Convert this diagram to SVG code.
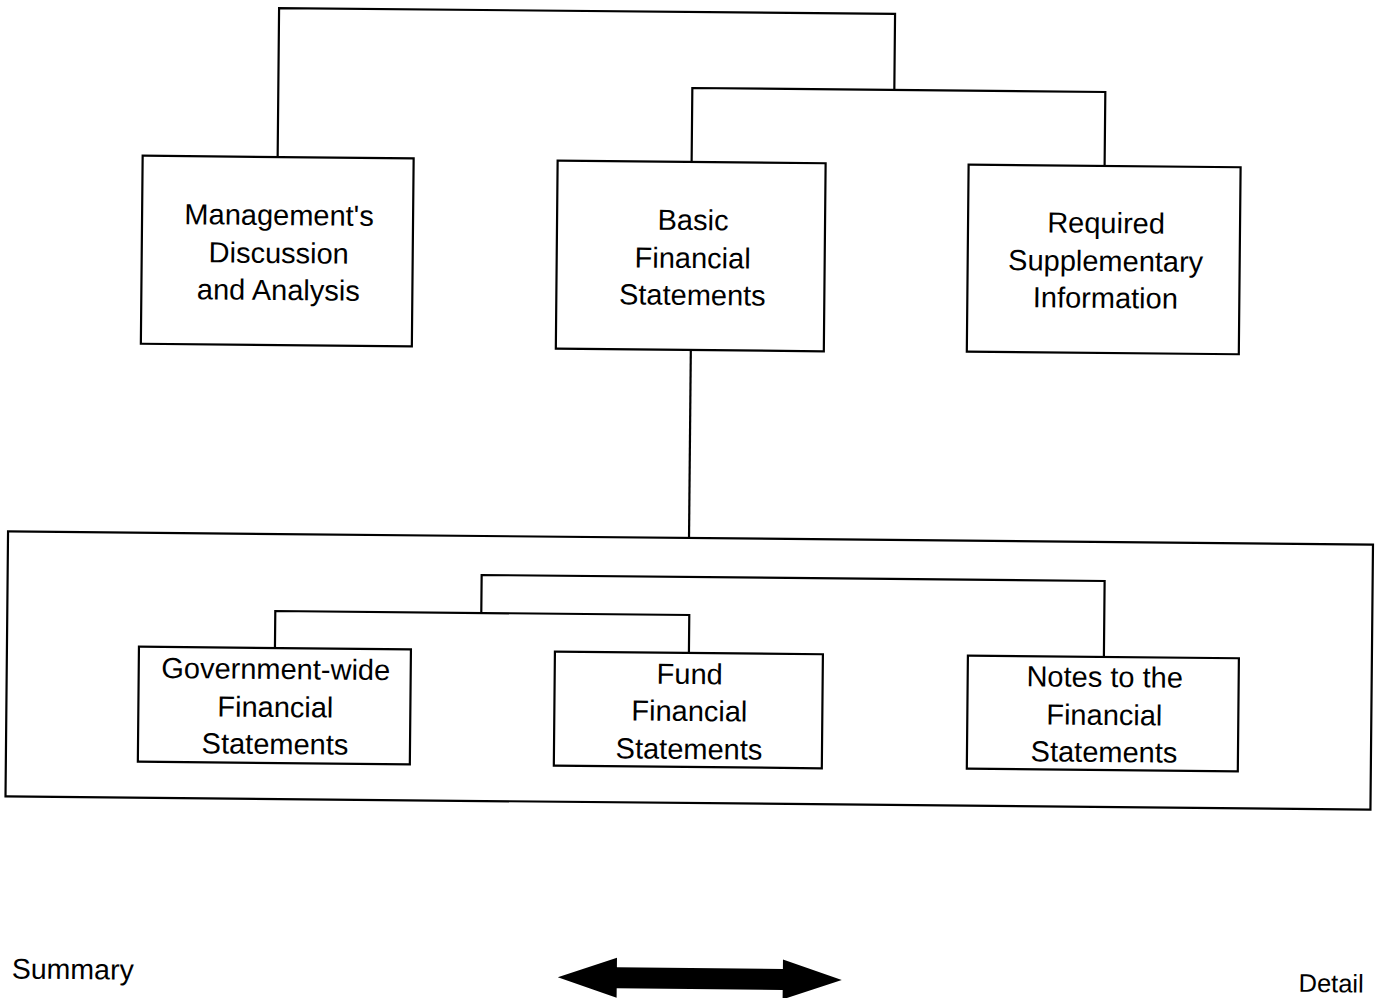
<svg xmlns="http://www.w3.org/2000/svg" width="1382" height="998" viewBox="0 0 1382 998">
<style>
.box{fill:#fff;stroke:#000;stroke-width:2.2}
.con{fill:none;stroke:#000;stroke-width:2.2}
text{font-family:"Liberation Sans",Arial,sans-serif;font-size:29px;fill:#000;text-anchor:middle}
</style>
<rect width="1382" height="998" fill="#fff"/>
<g transform="rotate(0.55 690 540)">
<g id="connectors" class="con">
<path d="M274,160 V12 H890 V88"/>
<path d="M688,162 V88 H1101 V162"/>
<path d="M689,350 V538"/>
<path d="M276,652 V615 H690 V653"/>
<path d="M482,615 V577 H1105 V653"/>
</g>
<g id="outer"><rect class="box" x="8" y="538" width="1365" height="265" fill="none" style="fill:none"/></g>
<g id="mda"><rect class="box" x="139" y="161" width="271" height="188"/>
<text x="276" y="229">Management's</text><text x="276" y="267">Discussion</text><text x="276" y="304">and Analysis</text></g>
<g id="bfs"><rect class="box" x="554" y="162" width="268" height="188"/>
<text x="690" y="230">Basic</text><text x="690" y="268">Financial</text><text x="690" y="305">Statements</text></g>
<g id="rsi"><rect class="box" x="965" y="162" width="272" height="187"/>
<text x="1103" y="229">Required</text><text x="1103" y="267">Supplementary</text><text x="1103" y="304">Information</text></g>
<g id="gov"><rect class="box" x="140" y="652" width="272" height="115"/>
<text x="277" y="683">Government-wide</text><text x="277" y="721">Financial</text><text x="277" y="758">Statements</text></g>
<g id="fund"><rect class="box" x="556" y="653" width="268" height="114"/>
<text x="691" y="684">Fund</text><text x="691" y="721">Financial</text><text x="691" y="759">Statements</text></g>
<g id="notes"><rect class="box" x="969" y="653" width="271" height="113"/>
<text x="1106" y="683">Notes to the</text><text x="1106" y="721">Financial</text><text x="1106" y="758">Statements</text></g>
<g id="scale">
<text x="16" y="985" style="text-anchor:start;font-size:28.5px">Summary</text>
<text x="1368" y="986" style="text-anchor:end;font-size:25.5px">Detail</text>
<polygon fill="#000" points="562,978.5 621,958.5 621,968 787,968 787,958.5 846,978.5 787,998.5 787,989 621,989 621,998.5"/>
</g>
</g>
</svg>
